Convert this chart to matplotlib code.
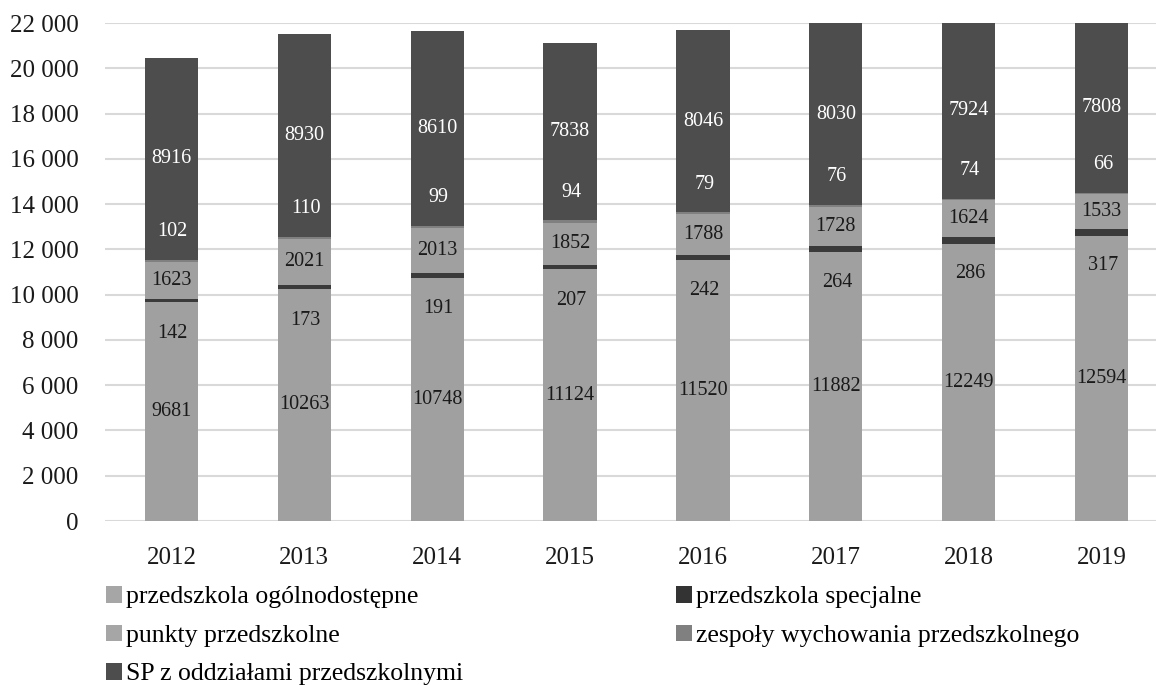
import matplotlib
matplotlib.use("Agg")
import matplotlib.pyplot as plt
import numpy as np
from matplotlib.patches import Patch

plt.rcParams['font.family'] = ['Liberation Serif', 'DejaVu Serif']

years = ['2012', '2013', '2014', '2015', '2016', '2017', '2018', '2019']
ogolnodostepne = [9681, 10263, 10748, 11124, 11520, 11882, 12249, 12594]
specjalne = [142, 173, 191, 207, 242, 264, 286, 317]
punkty = [1623, 2021, 2013, 1852, 1788, 1728, 1624, 1533]
zespoly = [102, 110, 99, 94, 79, 76, 74, 66]
sp_oddzialy = [8916, 8930, 8610, 7838, 8046, 8030, 7924, 7808]

series = [
    ('przedszkola ogólnodostępne', ogolnodostepne, '#a0a0a0', '#1a1a1a', 0),
    ('przedszkola specjalne', specjalne, '#3a3a3a', '#1a1a1a', -24),
    ('punkty przedszkolne', punkty, '#a0a0a0', '#1a1a1a', 0),
    ('zespoły wychowania przedszkolnego', zespoly, '#808080', '#ffffff', 21),
    ('SP z oddziałami przedszkolnymi', sp_oddzialy, '#4d4d4d', '#ffffff', 0),
]
legend_colors = {
    'przedszkola ogólnodostępne': '#a6a6a6',
    'przedszkola specjalne': '#333333',
    'punkty przedszkolne': '#a6a6a6',
    'zespoły wychowania przedszkolnego': '#808080',
    'SP z oddziałami przedszkolnymi': '#4d4d4d',
}

W, H = 1156, 685
fig = plt.figure(figsize=(W / 100, H / 100), dpi=100)
ax = fig.add_axes([105 / W, (H - 521) / H, (1168 - 105) / W, (521 - 23) / H])

YMAX = 22000
x = np.arange(len(years))
bottom = np.zeros(len(years))
handles = {}
for name, vals, color, tcolor, off in series:
    vals = np.array(vals, dtype=float)
    ax.bar(x, vals, bottom=bottom, width=0.4, color=color, edgecolor='none', zorder=3)
    handles[name] = Patch(facecolor=legend_colors[name], edgecolor='none')
    for xi, b, v in zip(x, bottom, vals):
        top = min(b + v, YMAX)
        yc = (b + top) / 2
        ax.annotate(f'{int(v)}', (xi, yc), xytext=(1 if off else 0, off), textcoords='offset points',
                    ha='center', va='center', fontsize=14.5, color=tcolor, zorder=4)
    bottom = bottom + vals

ax.set_xlim(-0.5, len(years) - 0.5)
ax.set_ylim(0, YMAX)
ax.set_yticks(np.arange(0, YMAX + 1, 2000))
ax.set_yticklabels([f'{v:,}'.replace(',', ' ') for v in range(0, YMAX + 1, 2000)])
ax.set_xticks(x)
ax.set_xticklabels(years)
ax.tick_params(axis='both', length=0, labelsize=18, colors='#1a1a1a')
ax.tick_params(axis='y', pad=19)
ax.tick_params(axis='x', pad=19)
ax.grid(axis='y', color='#d9d9d9', linewidth=1.5, zorder=0)
ax.set_axisbelow(True)
for s in ax.spines.values():
    s.set_visible(False)

order = ['przedszkola ogólnodostępne', 'punkty przedszkolne', 'SP z oddziałami przedszkolnymi',
         'przedszkola specjalne', 'zespoły wychowania przedszkolnego']
fig.legend([handles[n] for n in order], order, ncol=2, loc='upper left',
           bbox_to_anchor=(106 / W, (H - 586) / H), frameon=False, fontsize=18.5,
           handlelength=0.62, handleheight=0.62, handletextpad=0.15,
           columnspacing=8.3, labelspacing=0.63, borderpad=0, borderaxespad=0)

fig.savefig('out.png', dpi=100)
